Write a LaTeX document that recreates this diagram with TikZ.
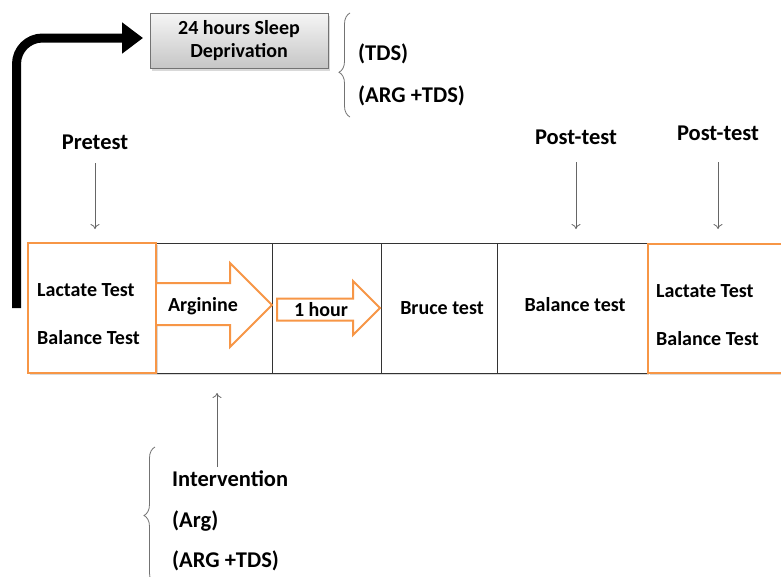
\documentclass[tikz,border=0pt]{standalone}
\usepackage{fontspec}
\setmainfont{Carlito}
\usetikzlibrary{arrows.meta,shadows,decorations.pathreplacing}
\definecolor{org}{HTML}{F79646}
\begin{document}
\begin{tikzpicture}[x=1pt,y=-1pt,
  txt/.style={font=\bfseries\fontsize{20}{23}\selectfont, inner sep=0pt},
  lab/.style={font=\bfseries\fontsize{22.5}{25}\selectfont, inner sep=0pt},
  cell/.style={draw=black!80, line width=0.9pt, minimum height=130pt, inner sep=0pt, fill=white},
  obox/.style={draw=org, line width=2pt, inner sep=0pt, fill=white},
  shad/.style={drop shadow={shadow xshift=1.5pt, shadow yshift=-2pt, opacity=0.3}},
  thinarr/.style={draw=black!60, line width=0.8pt, -{To[length=5pt,width=9pt]}},
  brc/.style={draw=black!55, line width=0.8pt, decorate},
  blockarr/.style={draw=org, line width=2pt, fill=white, line join=miter},
  sdbox/.style={draw=black!55, line width=0.8pt, top color=gray!8, bottom color=gray!45,
     minimum width=178pt, minimum height=55pt, align=center,
     font=\bfseries\fontsize{20}{23}\selectfont, inner sep=0pt}
]
\useasboundingbox (0,0) rectangle (781,576);
\clip (0,0) rectangle (781,576);

% main row cells
\node[cell, shad, minimum width=116pt] (c1) at (214,308) {};
\node[cell, shad, minimum width=109pt] (c2) at (326.5,308) {};
\node[cell, shad, minimum width=116pt] (c3) at (439,308) {};
\node[cell, shad, minimum width=150pt] (c4) at (572,308) {};
\node[obox, shad, minimum width=128pt, minimum height=130pt] (pre) at (92,308) {};
\node[obox, shad, minimum width=140pt, minimum height=129pt] (post) at (718,308.5) {};

% texts in cells
\node[txt, anchor=west] (lt1) at (37,290) {Lactate Test};
\node[txt, anchor=west] (bt1) at (37,338) {Balance Test};
\node[txt] (bruce) at (442,308) {Bruce test};
\node[txt] (bal) at (575,305) {Balance test};
\node[txt, anchor=west] (lt2) at (656,291) {Lactate Test};
\node[txt, anchor=west] (bt2) at (656,339) {Balance Test};

% block arrows
\draw[blockarr] (pre.east |- 0,283) -- (230,283) -- (230,263) -- (272,305) -- (230,347) -- (230,325) -- (pre.east |- 0,325);
\node[txt] (arg) at (203,306) {Arginine};
\draw[blockarr] (277,298.5) -- (353,298.5) -- (353,281) -- (380,308) -- (353,335) -- (353,320.5) -- (277,320.5) -- cycle;
\node[txt] (hour) at (321,309.5) {1 hour};

% sleep deprivation box and black arrow
\node[sdbox, shad] (sd) at (239,41) {24 hours Sleep\\Deprivation};
\coordinate (bstart) at (16.5,308);
\coordinate (bend) at (143,38);
\draw[line width=9pt, rounded corners=26pt, -{Triangle[length=21pt,width=30pt]}] (bstart) -- (16.5,38) -- (bend);

% top brace and labels
\coordinate (b1a) at (350,117);
\coordinate (b1b) at (350,13);
\draw[brc, decoration={brace, amplitude=11pt, aspect=0.43}] (b1a) -- (b1b);
\node[lab, anchor=west] (tds) at (358,54) {(TDS)};
\node[lab, anchor=west] (argtds1) at (358,96) {(ARG +TDS)};

% pretest / post-test labels and arrows
\node[lab] (pret) at (95,142) {Pretest};
\coordinate (pa) at (95,229);
\draw[thinarr] (95,163) -- (pa);
\node[lab] (post1) at (576,137) {Post-test};
\coordinate (p1a) at (576,229);
\draw[thinarr] (576,162) -- (p1a);
\node[lab] (post2) at (718,133) {Post-test};
\coordinate (p2a) at (718,229);
\draw[thinarr] (718,162) -- (p2a);

% intervention
\node[lab, anchor=west] (int) at (172,479) {Intervention};
\node[lab, anchor=west] (argl) at (172,521) {(Arg)};
\node[lab, anchor=west] (argtds2) at (172,561) {(ARG +TDS)};
\coordinate (ia) at (217,393);
\draw[thinarr] (217,467) -- (ia);
\coordinate (b2a) at (155,584);
\coordinate (b2b) at (155,447);
\draw[brc, decoration={brace, amplitude=11pt, aspect=0.5}] (b2a) -- (b2b);
\end{tikzpicture}
\end{document}
